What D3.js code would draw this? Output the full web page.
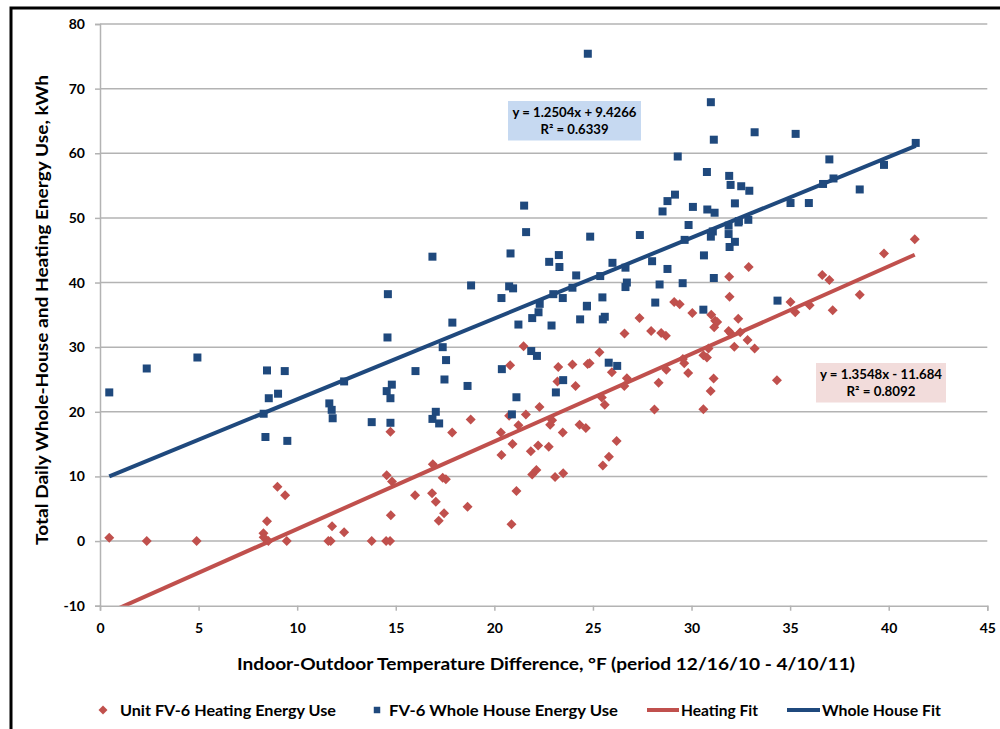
<!DOCTYPE html>
<html><head><meta charset="utf-8">
<script src="https://cdn.jsdelivr.net/npm/d3@7"></script>
<style>body{margin:0;background:#fff}svg{display:block}text{font-family:Lato,"Open Sans",sans-serif;font-weight:bold;fill:#000}</style>
</head><body><svg id="c" width="1000" height="729"></svg>
<script>
// ---- data ----
const heatingX = [0.47,2.37,4.9,9.0,9.39,8.47,8.29,8.3,8.54,9.47,14.73,17.86,18.8,16.88,14.54,14.81,17.38,17.54,15.98,16.84,17.03,17.45,17.18,18.64,14.75,11.77,12.38,11.58,11.7,13.78,14.51,14.71,21.48,20.8,27.36,27.95,28.46,28.7,26.6,25.33,23.24,23.96,24.73,24.83,25.96,26.72,26.59,28.33,23.2,24.12,22.29,21.6,20.75,21.22,20.33,22.93,22.83,23.47,24.32,24.64,25.45,25.6,28.12,20.92,20.36,21.85,22.22,22.76,26.2,25.81,25.5,21.92,22.13,23.08,23.49,21.12,20.87,41.32,39.76,32.9,31.91,36.63,36.99,31.93,38.53,29.12,29.4,30.04,35.02,35.26,35.99,37.16,31.0,31.2,31.15,31.3,32.37,31.88,32.0,32.47,32.17,32.84,33.2,30.86,30.6,30.78,29.56,29.63,28.72,29.83,31.12,34.33,30.97,30.6];
const heatingY = [0.5,0,0,8.4,7.1,3.05,1.2,0.6,0,0,16.9,16.8,18.8,11.9,10.2,9.2,9.8,9.55,7.1,7.4,6.1,4.3,3.15,5.3,4.0,2.3,1.35,0,0,0,0,0,30.15,27.2,34.5,32.5,32.2,31.75,32.1,29.2,26.95,27.3,27.4,27.5,26.1,25.2,24.0,24.5,24.7,24.0,20.75,19.6,19.4,17.9,16.8,18.7,18.0,16.8,18.0,17.5,22.2,21.1,20.35,15.0,13.3,13.9,14.8,14.6,15.5,13.05,11.7,10.3,11.0,9.9,10.5,7.75,2.6,46.7,44.5,42.4,40.9,41.15,40.4,37.8,38.1,37.0,36.65,35.3,37.0,35.4,36.5,35.7,35.0,34.1,33.1,33.9,34.4,32.5,32.1,32.3,30.05,31.1,29.8,29.8,28.75,28.4,28.15,27.5,26.5,26.0,25.15,24.9,23.2,20.4];
const houseX = [0.47,2.37,4.94,8.47,9.37,8.56,9.03,8.3,8.39,9.5,14.58,17.38,17.55,12.38,16.0,17.47,18.64,14.8,14.54,14.73,11.63,11.75,11.8,13.78,14.73,17.03,16.86,17.2,14.6,22.3,22.24,21.92,21.22,22.9,24.35,25.6,25.5,24.7,28.16,21.87,22.16,20.38,25.8,26.23,23.49,23.12,21.12,20.89,29.85,31.08,31.88,31.88,32.38,29.65,30.98,32.2,31.93,30.63,28.78,29.55,31.13,30.6,34.36,29.3,29.16,28.78,28.53,21.51,21.61,24.86,27.38,16.86,20.82,22.78,23.27,23.3,25.99,26.65,28.0,24.15,25.37,18.82,20.75,20.95,20.36,22.99,23.47,23.96,26.72,26.65,28.38,25.48,24.69,17.87,24.74,30.98,31.13,33.2,35.28,41.37,36.99,39.76,30.78,31.91,31.98,32.52,32.93,37.2,36.67,38.53,35.02,35.95,32.2,30.07,30.8,31.17,32.88,32.4];
const houseY = [23.0,26.7,28.4,26.4,26.3,22.1,22.8,19.7,16.1,15.5,31.5,30.0,28.0,24.7,26.3,25.0,24.0,24.2,23.2,22.1,21.3,20.3,19.0,18.4,18.3,20.0,18.9,18.2,38.2,36.7,35.4,34.5,33.5,33.35,34.3,34.7,34.3,36.4,36.9,29.4,28.65,26.6,27.6,27.1,24.9,23.0,22.25,19.6,48.9,47.9,48.8,47.5,49.3,46.6,47.1,46.3,45.5,44.2,42.1,39.9,40.7,35.8,37.2,59.5,53.6,52.6,51.0,51.9,47.8,47.1,47.35,44.0,44.5,43.2,44.25,42.4,43.05,42.3,43.3,41.1,41.0,39.55,39.4,39.1,37.6,38.2,37.6,39.2,40.0,39.3,39.7,37.7,36.3,33.8,75.4,67.9,62.1,63.25,63.0,61.6,59.05,58.2,57.1,56.5,55.1,54.9,54.2,56.1,55.25,54.4,52.3,52.3,52.25,51.7,51.3,50.8,49.7,49.5];
const heatingFit = {slope:1.3548, intercept:-11.684};
const houseFit = {slope:1.2504, intercept:9.4266};
const xTicks = [0,5,10,15,20,25,30,35,40,45];
const yTicks = [-10,0,10,20,30,40,50,60,70,80];
const seriesNames = ["Unit FV-6 Heating Energy Use","FV-6 Whole House Energy Use","Heating Fit","Whole House Fit"];
const xTitle = "Indoor-Outdoor Temperature Difference, °F (period 12/16/10 - 4/10/11)";
const yTitle = "Total Daily Whole-House and Heating Energy Use, kWh";

// ---- chart ----
const RED="#c0504d", BLUE="#1f497d", GRID="#b3b3b3";
const svg=d3.select("#c");
const L=100,R=987.3,T=24,B=605.7;
const x=d3.scaleLinear().domain([0,45]).range([L,R]);
const y=d3.scaleLinear().domain([-10,80]).range([B,T]);

// frame
svg.append("rect").attr("x",11).attr("y",8).attr("width",1100).attr("height",800)
  .attr("fill","none").attr("stroke","#000").attr("stroke-width",3);

// gridlines
svg.append("g").selectAll("line").data(yTicks.filter(d=>d>-10)).join("line")
  .attr("x1",L).attr("x2",R).attr("y1",d=>y(d)).attr("y2",d=>y(d))
  .attr("stroke",GRID).attr("stroke-width",1.5);

// axes
const yAxis=svg.append("g").attr("transform",`translate(${L},0)`)
  .call(d3.axisLeft(y).tickValues(yTicks).tickSize(5).tickPadding(10).tickFormat(d=>String(d)));
const xAxis=svg.append("g").attr("transform",`translate(0,${B})`)
  .call(d3.axisBottom(x).tickValues(xTicks).tickSize(5).tickPadding(12).tickFormat(d=>String(d)));
[yAxis,xAxis].forEach(a=>{
  a.select(".domain").attr("stroke",GRID).attr("stroke-width",1.5);
  a.selectAll(".tick line").attr("stroke",GRID).attr("stroke-width",1.5);
  a.selectAll(".tick text").attr("font-family","Lato").attr("font-weight","bold").attr("font-size",14).attr("fill","#000");
});

// clip
svg.append("clipPath").attr("id","pc").append("rect").attr("x",L).attr("y",T-10).attr("width",R-L+10).attr("height",B-T+10);

// fit lines
function fitLine(fit,xs,color){
  const x0=d3.min(xs), x1=d3.max(xs);
  svg.append("line").attr("clip-path","url(#pc)")
    .attr("x1",x(x0)).attr("y1",y(fit.slope*x0+fit.intercept))
    .attr("x2",x(x1)).attr("y2",y(fit.slope*x1+fit.intercept))
    .attr("stroke",color).attr("stroke-width",4);
}
fitLine(heatingFit,heatingX,RED);
fitLine(houseFit,houseX,BLUE);

// markers
const diamond=d3.symbol(d3.symbolSquare,50)();
const square=d3.symbol(d3.symbolSquare,64)();
svg.append("g").selectAll("path").data(heatingX.map((v,i)=>[v,heatingY[i]])).join("path")
  .attr("d",diamond).attr("fill",RED)
  .attr("transform",d=>`translate(${x(d[0])},${y(d[1])}) rotate(45)`);
svg.append("g").selectAll("path").data(houseX.map((v,i)=>[v,houseY[i]])).join("path")
  .attr("d",square).attr("fill",BLUE)
  .attr("transform",d=>`translate(${x(d[0])},${y(d[1])})`);

// equation boxes
function eqBox(bx,by,bw,bh,fill,l1,l2,w1,w2){
  const g=svg.append("g");
  g.append("rect").attr("x",bx).attr("y",by).attr("width",bw).attr("height",bh).attr("fill",fill);
  const cx=bx+bw/2;
  g.append("text").attr("x",cx).attr("y",by+16).attr("text-anchor","middle").attr("font-size",12.5)
    .attr("textLength",w1).attr("lengthAdjust","spacingAndGlyphs").text(l1);
  g.append("text").attr("x",cx).attr("y",by+33).attr("text-anchor","middle").attr("font-size",12.5)
    .attr("textLength",w2).attr("lengthAdjust","spacingAndGlyphs").text(l2);
}
eqBox(508,101,133,39.5,"#c6d9f1",
  `y = ${houseFit.slope}x + ${houseFit.intercept}`,"R² = 0.6339",124,68);
eqBox(816,363,130,39.5,"#f2dcdb",
  `y = ${heatingFit.slope}x - ${Math.abs(heatingFit.intercept)}`,"R² = 0.8092",122,69);

// axis titles
svg.append("text").attr("x",546).attr("y",670).attr("text-anchor","middle").attr("font-size",17)
  .attr("textLength",618).attr("lengthAdjust","spacingAndGlyphs").text(xTitle);
svg.append("text").attr("transform","translate(48,310) rotate(-90)").attr("text-anchor","middle").attr("font-size",17)
  .attr("textLength",470).attr("lengthAdjust","spacingAndGlyphs").text(yTitle);

// legend
const ly=710;
const lg=svg.append("g");
lg.append("path").attr("d",d3.symbol(d3.symbolSquare,40)()).attr("fill",RED).attr("transform",`translate(103,${ly}) rotate(45)`);
lg.append("text").attr("x",120).attr("y",ly+5.5).attr("font-size",15).attr("textLength",216).attr("lengthAdjust","spacingAndGlyphs").text(seriesNames[0]);
lg.append("path").attr("d",d3.symbol(d3.symbolSquare,42)()).attr("fill",BLUE).attr("transform",`translate(377,${ly})`);
lg.append("text").attr("x",389).attr("y",ly+5.5).attr("font-size",15).attr("textLength",229).attr("lengthAdjust","spacingAndGlyphs").text(seriesNames[1]);
lg.append("line").attr("x1",647).attr("x2",679).attr("y1",ly).attr("y2",ly).attr("stroke",RED).attr("stroke-width",4);
lg.append("text").attr("x",681).attr("y",ly+5.5).attr("font-size",15).attr("textLength",77).attr("lengthAdjust","spacingAndGlyphs").text(seriesNames[2]);
lg.append("line").attr("x1",787).attr("x2",820).attr("y1",ly).attr("y2",ly).attr("stroke",BLUE).attr("stroke-width",4);
lg.append("text").attr("x",822).attr("y",ly+5.5).attr("font-size",15).attr("textLength",119).attr("lengthAdjust","spacingAndGlyphs").text(seriesNames[3]);
</script></body></html>
